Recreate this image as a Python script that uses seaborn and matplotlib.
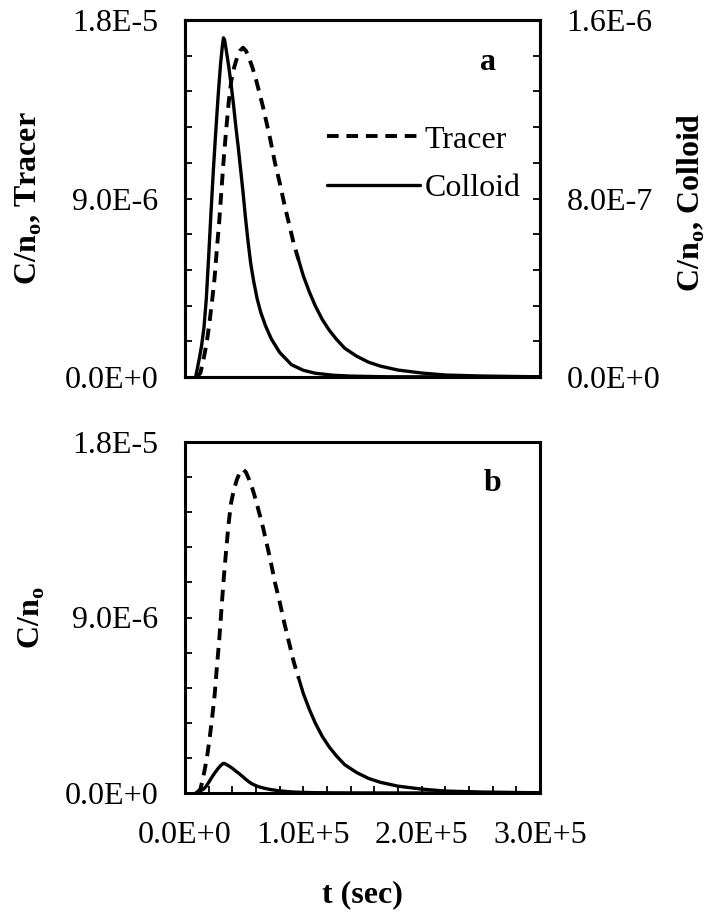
import pandas as pd
import matplotlib
matplotlib.use("Agg")
import matplotlib.pyplot as plt
from matplotlib.ticker import MultipleLocator, FixedLocator, FuncFormatter
import seaborn as sns

# time (sec) and C/n0
t_tracer = [10e3, 13e3, 15e3, 17e3, 19e3, 21e3, 23e3, 25e3, 27e3, 29e3, 31e3, 33e3, 35e3,
            37e3, 39e3, 41.5e3, 44e3, 46.5e3, 49e3, 51.5e3, 54e3, 57e3, 60e3, 63e3, 66e3,
            69e3, 72e3, 76e3, 80e3, 84e3, 88e3, 92e3, 96e3, 100e3, 105e3, 110e3, 116e3,
            122e3, 128e3, 135e3, 145e3, 155e3, 165e3, 180e3, 200e3, 220e3, 250e3, 300e3]
c_tracer = [0.0, 0.2e-6, 0.7e-6, 1.3e-6, 2.0e-6, 2.9e-6, 3.9e-6, 5.0e-6, 6.5e-6, 7.9e-6,
            9.6e-6, 11.2e-6, 12.6e-6, 13.9e-6, 14.9e-6, 15.6e-6, 16.1e-6, 16.45e-6, 16.6e-6,
            16.45e-6, 16.1e-6, 15.6e-6, 15.0e-6, 14.3e-6, 13.6e-6, 12.8e-6, 12.0e-6, 10.8e-6,
            9.8e-6, 8.7e-6, 7.7e-6, 6.7e-6, 5.9e-6, 5.1e-6, 4.3e-6, 3.6e-6, 2.9e-6, 2.35e-6,
            1.9e-6, 1.45e-6, 1.05e-6, 0.75e-6, 0.55e-6, 0.35e-6, 0.2e-6, 0.1e-6, 0.05e-6,
            0.01e-6]

t_colloid = [9e3, 12e3, 14e3, 16e3, 18e3, 20e3, 22e3, 24e3, 26e3, 28e3, 30e3, 31.5e3,
             32.5e3, 33.5e3, 35e3, 37e3, 39e3, 41e3, 43e3, 45e3, 47e3, 49e3, 51e3, 53e3,
             55.5e3, 58e3, 61e3, 64e3, 68e3, 73e3, 80e3, 90e3, 100e3, 110e3, 125e3, 140e3,
             170e3, 300e3]
c_colloid = [0.0, 0.08e-6, 0.14e-6, 0.22e-6, 0.35e-6, 0.54e-6, 0.74e-6, 0.93e-6, 1.10e-6,
             1.26e-6, 1.40e-6, 1.48e-6, 1.52e-6, 1.51e-6, 1.46e-6, 1.39e-6, 1.31e-6, 1.22e-6,
             1.12e-6, 1.03e-6, 0.93e-6, 0.83e-6, 0.72e-6, 0.62e-6, 0.51e-6, 0.43e-6, 0.35e-6,
             0.29e-6, 0.23e-6, 0.17e-6, 0.11e-6, 0.055e-6, 0.03e-6, 0.017e-6, 0.008e-6,
             0.004e-6, 0.001e-6, 0.0]

x_ticks = [0, 1e5, 2e5, 3e5]
y_ticks_tracer = [0, 9e-6, 1.8e-5]
y_ticks_colloid = [0, 8e-7, 1.6e-6]

df_tr = pd.DataFrame({"t": t_tracer, "C": c_tracer})
df_co = pd.DataFrame({"t": t_colloid, "C": c_colloid})
# the excel dash pattern fades into a solid line on the flat tail
tr_head = df_tr[df_tr["t"] <= 96e3]
tr_tail = df_tr[df_tr["t"] >= 96e3]

sns.set_theme(style="ticks")
plt.rcParams["font.family"] = ["Liberation Serif", "DejaVu Serif"]
plt.rcParams["mathtext.fontset"] = "custom"
plt.rcParams["mathtext.rm"] = "Liberation Serif"
plt.rcParams["mathtext.bf"] = "Liberation Serif:bold"
for k in ["text.color", "axes.labelcolor", "xtick.color", "ytick.color", "axes.edgecolor"]:
    plt.rcParams[k] = "black"

FS = 23
DASH = (0, (3, 2))


def sci(v, pos):
    m, e = f"{v:.1E}".split("E")
    return f"{m}E{int(e):+d}"


def style_y(ax, ticks, minor, side):
    ax.set_ylim(ticks[0], ticks[-1])
    ax.yaxis.set_major_locator(FixedLocator(ticks))
    ax.yaxis.set_minor_locator(MultipleLocator(minor))
    ax.yaxis.set_major_formatter(FuncFormatter(sci))
    ax.tick_params(axis="y", which="both", direction="in", length=5, width=1.3,
                   left=(side == "left"), right=(side == "right"),
                   labelleft=(side == "left"), labelright=(side == "right"),
                   pad=19, labelsize=FS)


fig = plt.figure(figsize=(7.21, 9.15), dpi=100)
ax_a = fig.add_axes([185 / 721, 1 - 377 / 915, 355 / 721, 357 / 915])
ax_b = fig.add_axes([185 / 721, 1 - 793 / 915, 355 / 721, 351 / 915])

# panel a: tracer on left axis, colloid on right axis
sns.lineplot(data=tr_head, x="t", y="C", ax=ax_a, color="black", lw=2.8, linestyle=DASH,
             estimator=None, legend=False)
sns.lineplot(data=tr_tail, x="t", y="C", ax=ax_a, color="black", lw=2.4,
             estimator=None, legend=False)
ax_a2 = ax_a.twinx()
sns.lineplot(data=df_co, x="t", y="C", ax=ax_a2, color="black", lw=2.4,
             estimator=None, legend=False)

for ax in (ax_a, ax_a2):
    ax.set_xlim(0, 3e5)
    ax.set_xlabel("")
    ax.tick_params(axis="x", which="both", bottom=False, top=False, labelbottom=False)
    for sp in ax.spines.values():
        sp.set_linewidth(2.2)
        sp.set_color("black")

style_y(ax_a, y_ticks_tracer, 1.8e-6, "left")
style_y(ax_a2, y_ticks_colloid, 1.6e-7, "right")

ax_a.set_ylabel(r"C/n$_\mathbf{o}$, Tracer", fontsize=FS, fontweight="bold", va="center")
ax_a.yaxis.set_label_coords(-0.44, 0.5)
ax_a2.set_ylabel(r"C/n$_\mathbf{o}$, Colloid", fontsize=FS, fontweight="bold", va="center")
ax_a2.yaxis.set_label_coords(1.425, 0.49)

handles = [ax_a.lines[0], ax_a2.lines[0]]
ax_a2.legend(handles, ["Tracer", "Colloid"], loc="upper left", bbox_to_anchor=(0.4, 0.705),
             frameon=False, fontsize=FS, handlelength=2.9, handletextpad=0.15,
             labelspacing=0.6, borderpad=0, borderaxespad=0)
ax_a2.text(0.854, 0.882, "a", transform=ax_a2.transAxes, fontsize=FS, fontweight="bold",
           ha="center", va="center")

# panel b: both on one axis
sns.lineplot(data=tr_head, x="t", y="C", ax=ax_b, color="black", lw=2.8, linestyle=DASH,
             estimator=None, legend=False)
sns.lineplot(data=tr_tail, x="t", y="C", ax=ax_b, color="black", lw=2.4,
             estimator=None, legend=False)
sns.lineplot(data=df_co, x="t", y="C", ax=ax_b, color="black", lw=2.4,
             estimator=None, legend=False)

ax_b.set_xlim(0, 3e5)
ax_b.xaxis.set_major_locator(FixedLocator(x_ticks))
ax_b.xaxis.set_minor_locator(MultipleLocator(2e4))
ax_b.xaxis.set_major_formatter(FuncFormatter(sci))
ax_b.tick_params(axis="x", which="both", direction="in", length=5, width=1.3,
                 bottom=True, top=False, pad=20, labelsize=FS)
style_y(ax_b, y_ticks_tracer, 1.8e-6, "left")
for sp in ax_b.spines.values():
    sp.set_linewidth(2.2)
    sp.set_color("black")

ax_b.set_ylabel(r"C/n$_\mathbf{o}$", fontsize=FS, fontweight="bold", va="center")
ax_b.yaxis.set_label_coords(-0.431, 0.5)
ax_b.set_xlabel("t (sec)", fontsize=FS, fontweight="bold", va="center")
ax_b.xaxis.set_label_coords(0.501, -0.291)
ax_b.text(0.865, 0.883, "b", transform=ax_b.transAxes, fontsize=FS, fontweight="bold",
          ha="center", va="center")

fig.savefig("out.png", dpi=100)
